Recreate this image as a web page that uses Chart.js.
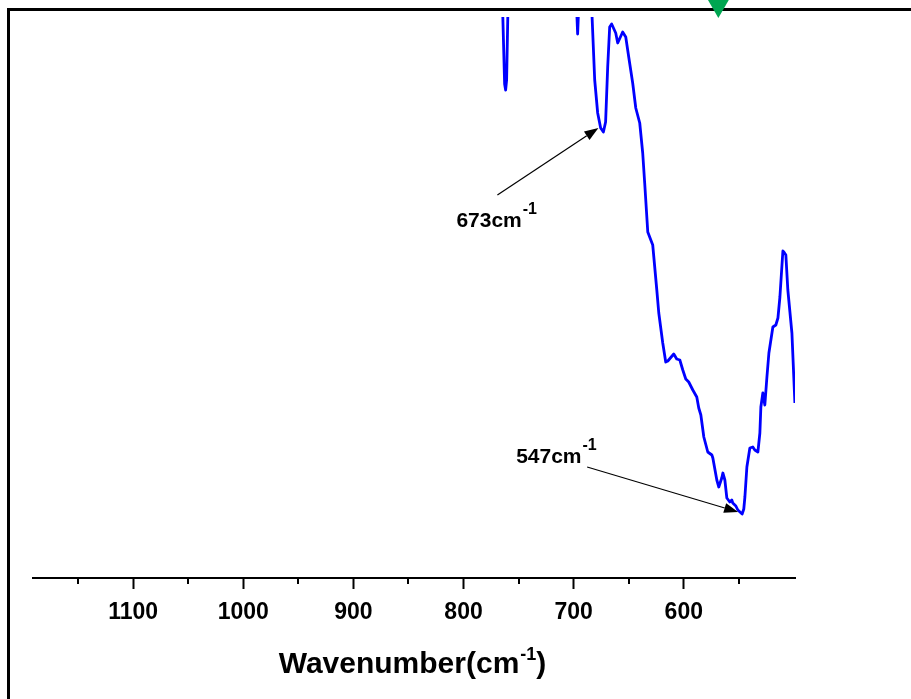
<!DOCTYPE html>
<html>
<head>
<meta charset="utf-8">
<title>FTIR spectrum</title>
<script src="https://cdn.jsdelivr.net/npm/chart.js@4.4.1/dist/chart.umd.min.js"></script>
<style>
  html, body { margin: 0; padding: 0; background: #fff; }
  canvas { display: block; }
</style>
</head>
<body>
<canvas id="spectrum" width="911" height="699"></canvas>
<script>
// spectrum, high to low wavenumber (cm-1); values above 56 run off the top of the plot
const wavenumber = [
  770, 764.8, 762.7, 761.8, 760.9, 759.5, 730,
  697.5, 696.4, 695.3, 690, 684.0,
  680.9, 678.2, 675.5, 673, 671.0, 669.1, 667.3, 665.5, 661.8, 660.0,
  655.5, 652.7, 650.0, 646.4, 643.6, 640.0, 637.3, 635.5, 632.7, 628.2,
  624.5, 622.7, 619.1, 616.4, 614.5, 609.1, 606.4, 603.6, 600.9, 598.2,
  595.5, 591.8, 588.2, 586.4, 584.5, 581.8, 578.2, 574.5, 573.6, 570.0,
  568.2, 565.5, 564.5, 562.7, 560.9, 558.2, 556.4, 555.5, 552.7, 550.9,
  547, 545.5, 544.5, 542.7, 540.0, 537.3, 535.5, 532.7, 530.9, 530.0,
  528.2, 526.4, 524.5, 522.7, 519.1, 516.4, 514.5, 512.7, 510.0, 509.1,
  507.3, 505.5, 501.8, 499.1
];
const transmittance = [
  60, 58, 49.4, 48.8, 49.8, 58, 60,
  57.5, 54.4, 57.5, 60, 58,
  49.8, 46.5, 45.0, 44.6, 45.6, 51.1, 55.1, 55.4, 54.5, 53.5,
  54.6, 54.1, 52.1, 49.5, 47.0, 45.5, 42.5, 39.5, 34.6, 33.3,
  28.8, 26.5, 23.5, 21.6, 21.7, 22.4, 21.9, 21.8, 20.8, 19.9,
  19.6, 18.8, 18.1, 17.0, 16.3, 14.1, 12.6, 12.3, 12.0, 9.8,
  9.1, 10.0, 10.5, 9.8, 8.0, 7.6, 7.8, 7.5, 7.2, 6.8,
  6.4, 6.9, 8.1, 11.1, 13.0, 13.1, 12.8, 12.6, 14.5, 17.1,
  18.5, 17.3, 20.1, 22.5, 25.1, 25.3, 26.0, 28.1, 32.7, 32.6,
  32.3, 28.8, 24.5, 17.5
];
const majorTicks = [1100, 1000, 900, 800, 700, 600];
const minorTicks = [1150, 1050, 950, 850, 750, 650, 550];
const peaks = [673, 547];
const markerX = [568.6];
const markerY = [57.2];

// pixel offsets of arrow tip, arrow tail and label from each peak
const peakLayout = [
  { tip: [-5, -4], tail: [-106, 63], text: [-147, 95] },
  { tip: [-4, -2], tail: [-155, -47], text: [-226, -51] }
];

const FONT = '"Liberation Sans", Arial, sans-serif';

function drawArrow(ctx, x1, y1, x2, y2) {
  const a = Math.atan2(y2 - y1, x2 - x1);
  const len = 14, half = 5;
  const bx = x2 - len * Math.cos(a), by = y2 - len * Math.sin(a);
  ctx.beginPath();
  ctx.moveTo(x1, y1);
  ctx.lineTo(bx, by);
  ctx.stroke();
  ctx.beginPath();
  ctx.moveTo(x2, y2);
  ctx.lineTo(bx + half * Math.sin(a), by - half * Math.cos(a));
  ctx.lineTo(bx - half * Math.sin(a), by + half * Math.cos(a));
  ctx.closePath();
  ctx.fill();
}

// text with a raised "-1" exponent, optional trailing text
function supText(ctx, x, y, base, sup, tail, size, supSize, rise, measureOnly) {
  ctx.font = 'bold ' + size + 'px ' + FONT;
  const w1 = ctx.measureText(base).width;
  const w3 = tail ? ctx.measureText(tail).width : 0;
  ctx.font = 'bold ' + supSize + 'px ' + FONT;
  const w2 = ctx.measureText(sup).width;
  if (measureOnly) return w1 + w2 + w3;
  ctx.textAlign = 'left';
  ctx.textBaseline = 'alphabetic';
  ctx.font = 'bold ' + size + 'px ' + FONT;
  ctx.fillText(base, x, y);
  ctx.font = 'bold ' + supSize + 'px ' + FONT;
  ctx.fillText(sup, x + w1 + 1, y - rise);
  if (tail) {
    ctx.font = 'bold ' + size + 'px ' + FONT;
    ctx.fillText(tail, x + w1 + w2 + 1, y);
  }
  return w1 + w2 + w3;
}

const decorations = {
  id: 'decorations',
  beforeDatasetsDraw(chart) {
    const ctx = chart.ctx;
    ctx.save();
    ctx.strokeStyle = '#000';
    ctx.lineWidth = 3;
    ctx.beginPath();
    ctx.moveTo(7, 9.5);
    ctx.lineTo(chart.width, 9.5);
    ctx.moveTo(8.5, 8);
    ctx.lineTo(8.5, chart.height);
    ctx.stroke();
    ctx.restore();
  },
  afterDraw(chart) {
    const ctx = chart.ctx;
    const xs = chart.scales.x, ys = chart.scales.y;
    ctx.save();
    ctx.strokeStyle = '#000';
    ctx.fillStyle = '#000';

    // minor ticks
    ctx.lineWidth = 2;
    minorTicks.forEach(v => {
      const px = Math.round(xs.getPixelForValue(v));
      ctx.beginPath();
      ctx.moveTo(px, xs.top);
      ctx.lineTo(px, xs.top + 6);
      ctx.stroke();
    });

    // peak arrows and labels
    ctx.lineWidth = 1.2;
    peaks.forEach((p, i) => {
      const idx = wavenumber.indexOf(p);
      const px = xs.getPixelForValue(p);
      const py = ys.getPixelForValue(transmittance[idx]);
      const l = peakLayout[i];
      drawArrow(ctx, px + l.tail[0], py + l.tail[1], px + l.tip[0], py + l.tip[1]);
      supText(ctx, px + l.text[0], py + l.text[1], String(p) + 'cm', '-1', '', 21, 16, 13);
    });

    // axis title
    const area = chart.chartArea;
    const w = supText(ctx, 0, 0, 'Wavenumber(cm', '-1', ')', 30, 18, 13, true);
    supText(ctx, (area.left + area.right) / 2 - 2 - w / 2, 673, 'Wavenumber(cm', '-1', ')', 30, 18, 13);
    ctx.restore();
  }
};

new Chart(document.getElementById('spectrum'), {
  type: 'scatter',
  data: {
    datasets: [
      {
        data: wavenumber.map((w, i) => ({ x: w, y: transmittance[i] })),
        showLine: true,
        borderColor: '#0000ff',
        borderWidth: 2.8,
        borderJoinStyle: 'round',
        pointRadius: 0,
        tension: 0,
        clip: 0
      },
      {
        data: markerX.map((x, i) => ({ x: x, y: markerY[i] })),
        pointStyle: 'triangle',
        rotation: 180,
        pointRadius: 12,
        backgroundColor: '#00a651',
        borderWidth: 0,
        clip: false
      }
    ]
  },
  options: {
    responsive: false,
    animation: false,
    layout: { padding: { left: 33, right: 116, top: 17, bottom: 0 } },
    plugins: {
      legend: { display: false },
      tooltip: { enabled: false }
    },
    scales: {
      x: {
        type: 'linear',
        reverse: true,
        min: 499,
        max: 1191,
        afterBuildTicks: scale => {
          scale.ticks = majorTicks.map(v => ({ value: v }));
        },
        afterFit: scale => { scale.height = 121; },
        grid: {
          display: true,
          drawOnChartArea: false,
          drawTicks: true,
          tickLength: 11,
          tickWidth: 2,
          tickColor: '#000'
        },
        border: { display: true, color: '#000', width: 2 },
        ticks: {
          color: '#000',
          padding: 10,
          maxRotation: 0,
          autoSkip: false,
          callback: v => String(v),
          font: { family: FONT, size: 23, weight: 'bold' }
        }
      },
      y: {
        display: false,
        min: 0,
        max: 56.1
      }
    }
  },
  plugins: [decorations]
});
</script>
</body>
</html>
